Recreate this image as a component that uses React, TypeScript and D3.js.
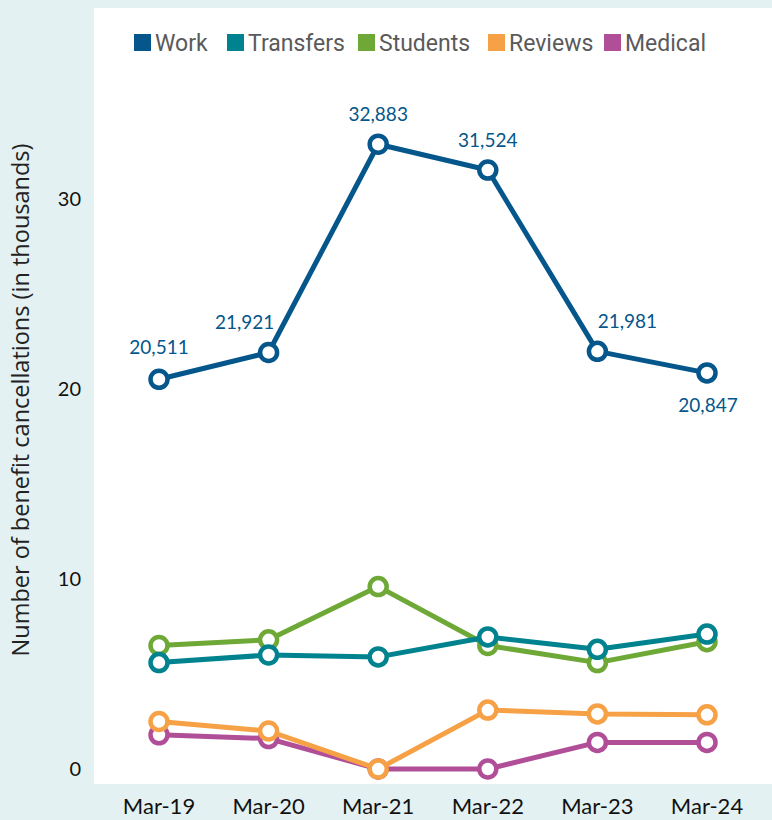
import React from 'react';
import * as d3 from 'd3';

// Chart data (thousands of cancellations)
const months = ['Mar-19', 'Mar-20', 'Mar-21', 'Mar-22', 'Mar-23', 'Mar-24'];
const work = [20.511, 21.921, 32.883, 31.524, 21.981, 20.847];
const transfers = [5.6, 6.0, 5.9, 6.95, 6.3, 7.1];
const students = [6.5, 6.8, 9.6, 6.5, 5.6, 6.7];
const reviews = [2.5, 2.0, 0, 3.1, 2.9, 2.85];
const medical = [1.8, 1.6, 0, 0, 1.4, 1.4];
const workLabels = ['20,511', '21,921', '32,883', '31,524', '21,981', '20,847'];
const yTicks = [0, 10, 20, 30];

const series = [
  { name: 'Work', color: '#04568b', values: work },
  { name: 'Transfers', color: '#00838f', values: transfers },
  { name: 'Students', color: '#6ea836', values: students },
  { name: 'Reviews', color: '#f6a145', values: reviews },
  { name: 'Medical', color: '#b04f98', values: medical }
];

const W = 772;
const H = 820;

const App: React.FC = () => {
  const x = d3.scalePoint<string>().domain(months).range([159, 707]);
  const y = d3.scaleLinear().domain([0, 30]).range([769, 199]);
  const line = d3.line<number>().x((_, i) => x(months[i]) as number).y(d => y(d));

  // label offsets relative to each Work point: [dx, dy]
  const labelOffsets: Array<[number, number]> = [[0, -25], [-24, -24], [0, -23], [0, -23], [30, -23], [1, 39]];

  // legend layout (square left edges)
  const legendX = [134, 227, 358, 488, 604];

  return <svg width={W} height={H} style={{ position: 'absolute', left: 0, top: 0, display: 'block' }}>
      <rect x={0} y={0} width={W} height={H} fill="#e4f1f2" />
      <rect x={94} y={8} width={W - 94} height={776} fill="#ffffff" />

      {/* legend */}
      {series.map((s, i) => <g key={s.name} transform={`translate(${legendX[i]},34)`}>
          <rect x={0} y={0} width={17} height={17} fill={s.color} />
          <text x={21} y={17} fontFamily="Roboto, sans-serif" fontSize={23} fill="#5a5a5a">{s.name}</text>
        </g>)}

      {/* y ticks */}
      {yTicks.map(t => <text key={t} x={81} y={y(t) + 7} textAnchor="end" fontFamily="Lato, sans-serif" fontSize={20} fill="#111">{t}</text>)}

      {/* y title */}
      <text transform={`translate(29,400) rotate(-90)`} textAnchor="middle" fontFamily="'Open Sans', sans-serif" fontSize={23.5} fill="#222">Number of benefit cancellations (in thousands)</text>

      {/* x labels */}
      {months.map(m => <text key={m} x={x(m)} y={814} textAnchor="middle" fontFamily="Lato, sans-serif" fontSize={22} fill="#111">{m}</text>)}

      {/* series, drawn bottom to top */}
      {[...series].reverse().map(s => <g key={s.name}>
          <path d={line(s.values) || ''} fill="none" stroke={s.color} strokeWidth={5} strokeLinejoin="round" />
          {s.values.map((v, i) => <circle key={i} cx={x(months[i])} cy={y(v)} r={8.5} fill="#fff" stroke={s.color} strokeWidth={4.5} />)}
        </g>)}

      {/* work value labels */}
      {work.map((v, i) => <text key={i} x={(x(months[i]) as number) + labelOffsets[i][0]} y={y(v) + labelOffsets[i][1]} textAnchor="middle" fontFamily="Lato, sans-serif" fontSize={19} fill="#04568b">{workLabels[i]}</text>)}
    </svg>;
};

export default App;
